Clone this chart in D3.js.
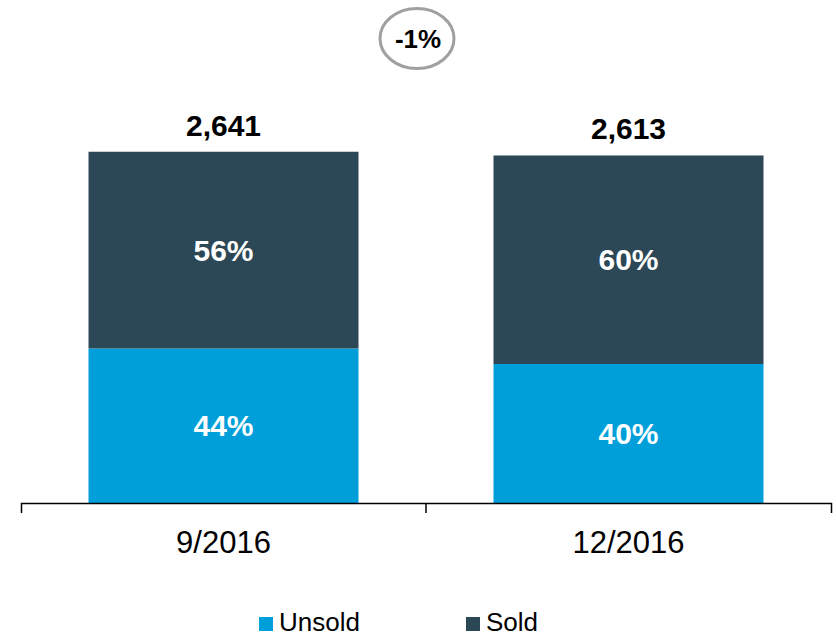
<!DOCTYPE html>
<html lang="en">
<head>
  <meta charset="UTF-8">
  <title>Sold / Unsold</title>
  <script src="https://d3js.org/d3.v7.min.js"></script>
  <style>
    body { margin: 0; background: #fff; }
    text { font-family: "Liberation Sans", Arial, sans-serif; }
  </style>
</head>
<body>
<script>
var periods = ["9/2016", "12/2016"];
var totals = [2641, 2613];
var unsoldShare = [0.44, 0.40];
var soldShare = [0.56, 0.60];
var seriesNames = ["Unsold", "Sold"];
var changeLabel = "-1%";

var colors = {Unsold: "#009FDA", Sold: "#2C4755"};

var width = 836, height = 637;
var svg = d3.select("body").append("svg")
    .attr("width", width)
    .attr("height", height);

var x = d3.scaleBand()
    .domain(periods)
    .range([21, 831])
    .paddingInner(1 / 3)
    .paddingOuter(1 / 6);

var y = d3.scaleLinear()
    .domain([0, 3000])
    .range([503, 104]);

// stacked data
var rows = periods.map(function(p, i) {
  return {period: p, total: totals[i], Unsold: totals[i] * unsoldShare[i], Sold: totals[i] * soldShare[i],
          pct: {Unsold: unsoldShare[i], Sold: soldShare[i]}};
});
var series = d3.stack().keys(seriesNames)(rows);

var layer = svg.selectAll("g.layer")
    .data(series)
  .enter().append("g")
    .attr("class", "layer")
    .attr("fill", function(d) { return colors[d.key]; });

layer.selectAll("rect")
    .data(function(d) { return d; })
  .enter().append("rect")
    .attr("x", function(d) { return x(d.data.period); })
    .attr("width", x.bandwidth())
    .attr("y", function(d) { return y(d[1]); })
    .attr("height", function(d) { return y(d[0]) - y(d[1]); });

// percentage labels inside segments
series.forEach(function(s) {
  svg.selectAll(null)
      .data(s)
    .enter().append("text")
      .attr("x", function(d) { return x(d.data.period) + x.bandwidth() / 2; })
      .attr("y", function(d) { return (y(d[0]) + y(d[1])) / 2 + 10.5; })
      .attr("text-anchor", "middle")
      .attr("fill", "#fff")
      .attr("font-size", 30)
      .attr("font-weight", "bold")
      .text(function(d) { return Math.round(d.data.pct[s.key] * 100) + "%"; });
});

// totals on top
svg.selectAll("text.total")
    .data(rows)
  .enter().append("text")
    .attr("class", "total")
    .attr("x", function(d) { return x(d.period) + x.bandwidth() / 2; })
    .attr("y", function(d) { return y(d.total) - 16; })
    .attr("text-anchor", "middle")
    .attr("font-size", 30)
    .attr("font-weight", "bold")
    .attr("fill", "#000")
    .text(function(d) { return d3.format(",")(d.total); });

// x axis
var xAxis = d3.axisBottom(x).tickSizeInner(0).tickSizeOuter(10).tickPadding(0);
var gx = svg.append("g")
    .attr("transform", "translate(0,503)")
    .call(xAxis);
gx.select(".domain").attr("stroke", "#000").attr("stroke-width", 1.5);
gx.selectAll(".tick text")
    .attr("font-family", "Liberation Sans, Arial, sans-serif")
    .attr("font-size", 31)
    .attr("fill", "#000")
    .attr("dy", 0)
    .attr("y", 50);
// boundary tick between categories
var mid = x(periods[1]) - x.step() * x.paddingInner() / 2;
gx.append("line")
    .attr("x1", mid).attr("x2", mid)
    .attr("y1", 0).attr("y2", 10)
    .attr("stroke", "#000").attr("stroke-width", 1.5);

// change bubble
var cx = mid - 9;
svg.append("ellipse")
    .attr("cx", cx).attr("cy", 38.5)
    .attr("rx", 37).attr("ry", 30)
    .attr("fill", "none")
    .attr("stroke", "#A0A0A0")
    .attr("stroke-width", 3);
svg.append("text")
    .attr("x", cx + 1).attr("y", 47.5)
    .attr("text-anchor", "middle")
    .attr("font-size", 26)
    .attr("font-weight", "bold")
    .text(changeLabel);

// legend
var legendPos = [259, 466];
var legend = svg.selectAll("g.legend")
    .data(seriesNames)
  .enter().append("g")
    .attr("class", "legend")
    .attr("transform", function(d, i) { return "translate(" + legendPos[i] + ",617)"; });
legend.append("rect")
    .attr("width", 14).attr("height", 14)
    .attr("fill", function(d) { return colors[d]; });
legend.append("text")
    .attr("x", 20).attr("y", 14)
    .attr("font-size", 26)
    .attr("fill", "#000")
    .text(function(d) { return d; });
</script>
</body>
</html>
